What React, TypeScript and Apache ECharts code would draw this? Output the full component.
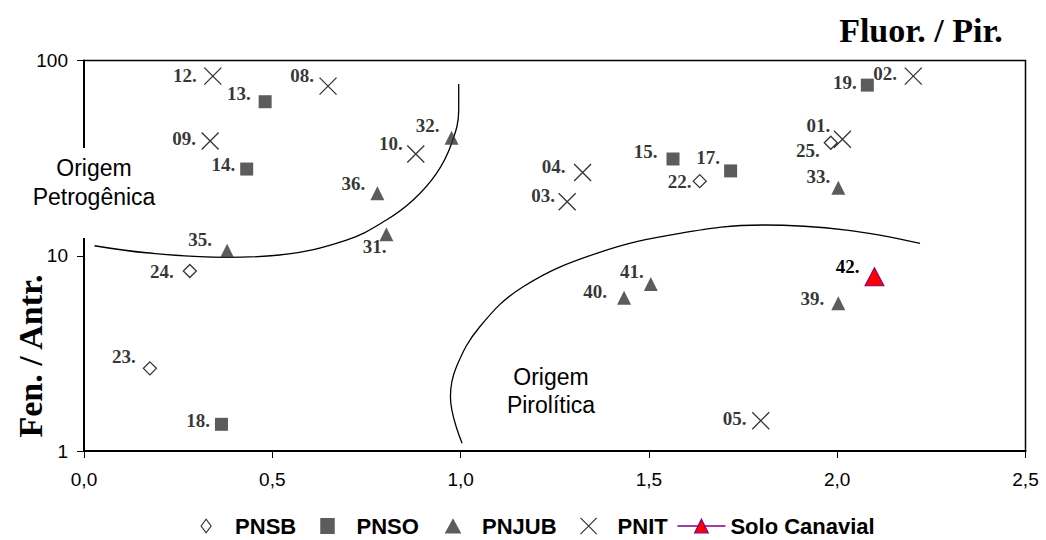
import React, { useEffect, useRef } from "react";
import * as echarts from "echarts";

// ---- data ----
const pnsbNames = ["22.", "23.", "24.", "25."];
const pnsbX = [1.635, 0.175, 0.281, 1.983];
const pnsbY = [24.1, 2.65, 8.35, 37.9];

const pnsoNames = ["13.", "14.", "15.", "17.", "18.", "19."];
const pnsoX = [0.481, 0.432, 1.564, 1.717, 0.365, 2.08];
const pnsoY = [61.5, 27.8, 31.3, 27.2, 1.37, 74.8];

const pnjubNames = ["31.", "32.", "33.", "35.", "36.", "39.", "40.", "41."];
const pnjubX = [0.803, 0.976, 2.003, 0.38, 0.779, 2.003, 1.434, 1.505];
const pnjubY = [12.9, 40.2, 22.3, 10.6, 20.9, 5.71, 6.1, 7.16];

const pnitNames = ["01.", "02.", "03.", "04.", "05.", "08.", "09.", "10.", "12."];
const pnitX = [2.014, 2.202, 1.283, 1.324, 1.797, 0.648, 0.335, 0.881, 0.342];
const pnitY = [39.5, 83.2, 18.9, 26.7, 1.43, 73.9, 38.7, 33.2, 83.2];

const soloNames = ["42."];
const soloX = [2.099];
const soloY = [7.81];

// boundary curves (data coordinates)
const petroCurveX = [0.028, 0.165, 0.378, 0.519, 0.697, 0.803, 0.874, 0.936, 0.976, 0.995, 0.995];
const petroCurveY = [11.25, 10.36, 9.82, 10.09, 12.03, 15.24, 19.28, 26.4, 37.6, 55.7, 75.7];
const pyroCurveX = [1.004, 0.973, 0.989, 1.051, 1.166, 1.361, 1.582, 1.803, 2.025, 2.22];
const pyroCurveY = [1.095, 1.897, 2.7, 4.33, 6.94, 10.29, 13.03, 14.37, 13.54, 11.57];

const xTicks = { min: 0, max: 2.5, interval: 0.5 };
const yTicks = { min: 1, max: 100 };

const legendNames = ["PNSB", "PNSO", "PNJUB", "PNIT", "Solo Canavial"];

// label placement: [distance, dy, dx]
const labelPlacement: Record<string, number[]> = {
  "12.": [7, -1], "13.": [8, -8], "08.": [5, -11], "09.": [5, -2], "14.": [5, -4.5],
  "10.": [4, -10], "32.": [5, -12.7], "36.": [5, -10], "31.": [0, 12.4, 7], "35.": [8, -11],
  "24.": [9, 0.7], "19.": [4, -2.5], "02.": [7, -3], "01.": [3, -14], "25.": [4, 7.3],
  "15.": [9, -7], "17.": [4, -13.5], "22.": [1, 0], "04.": [8, -6], "03.": [3, -6.7],
  "33.": [1, -11], "41.": [0, -12.3], "40.": [10, -6], "39.": [7, -5], "42.": [5, -10],
  "05.": [5, -2], "23.": [7, -11.6], "18.": [5, -4],
};

// legend layout (left edge of each legend item)
const legendLeft = [197, 319, 444.5, 579.5, 676.8];

function points(names: string[], xs: number[], ys: number[]) {
  return names.map((n, i) => {
    const p = labelPlacement[n] || [5, 0];
    return {
      name: n,
      value: [xs[i], ys[i]],
      label: { distance: p[0], offset: [p[2] || 0, p[1]] },
    };
  });
}

const serifLabel = {
  show: true,
  position: "left",
  formatter: (p: any) => p.name,
  fontFamily: "'Liberation Serif', 'Times New Roman', serif",
  fontWeight: "bold",
  fontSize: 19,
  color: "#000",
};

const X_PATH = "path://M0,0L10,10M10,0L0,10";
const LEG_ICONS: (string | undefined)[] = [
  "path://M0,0M17,17M3.5,8.5L8.5,1.7L13.5,8.5L8.5,15.3Z",
  "path://M0,0M17,17M1.25,0.5L15.75,0.5L15.75,16.5L1.25,16.5Z",
  "path://M0,0M17,17M0.2,16L8.5,0.7L16.8,16Z",
  "path://M0,0M17,17M0.4,0.4L16.6,16.6M16.6,0.4L0.4,16.6",
  undefined,
];

export default function App() {
  const ref = useRef<HTMLDivElement>(null);
  useEffect(() => {
    if (!ref.current) return;
    const chart = echarts.init(ref.current, null, { renderer: "svg" });
    const sans = "'Liberation Sans', Arial, sans-serif";
    const serif = "'Liberation Serif', 'Times New Roman', serif";
    const legends = legendNames.map((name, i) => ({
      left: legendLeft[i], top: 515, padding: 0,
      itemWidth: 48, itemHeight: 17,
      itemStyle: { borderWidth: 1.2 },
      lineStyle: { width: 1.3 },
      textStyle: { fontFamily: sans, fontWeight: "bold", fontSize: 22, color: "#000" },
      data: [LEG_ICONS[i] ? { name, icon: LEG_ICONS[i] } : { name }],
    }));
    chart.setOption({
      animation: false,
      backgroundColor: "#fff",
      grid: {
        left: 84, right: 20.5, top: 60.5, bottom: 89,
        show: true, borderColor: "#000", borderWidth: 1.5,
      },
      xAxis: {
        type: "value",
        min: xTicks.min, max: xTicks.max, interval: xTicks.interval,
        axisLine: { show: true, onZero: false, lineStyle: { color: "#000", width: 2 } },
        axisTick: { show: true, length: 7, lineStyle: { color: "#000", width: 1 } },
        splitLine: { show: false },
        axisLabel: {
          color: "#000", fontFamily: sans, fontSize: 19, margin: 19,
          formatter: (v: number) => v.toFixed(1).replace(".", ","),
        },
      },
      yAxis: {
        type: "log", logBase: 10, min: yTicks.min, max: yTicks.max,
        axisLine: { show: true, lineStyle: { color: "#000", width: 2 } },
        axisTick: { show: true, length: 7, lineStyle: { color: "#000", width: 1 } },
        minorTick: { show: false },
        splitLine: { show: false },
        axisLabel: { color: "#000", fontFamily: sans, fontSize: 19, margin: 16 },
      },
      legend: legends,
      graphic: [
        {
          type: "text", x: 94, y: 148, z: 100,
          style: {
            text: "Origem\nPetrogênica", fontFamily: sans, fontSize: 23, lineHeight: 29,
            fill: "#000", align: "center", verticalAlign: "top",
            backgroundColor: "#fff", padding: [5, 4, 27, 4],
          },
        },
        {
          type: "text", x: 551, y: 363, z: 100,
          style: {
            text: "Origem\nPirolítica", fontFamily: sans, fontSize: 23, lineHeight: 28,
            fill: "#000", align: "center", verticalAlign: "top",
          },
        },
        {
          type: "text", x: 921, y: 30, z: 100,
          style: {
            text: "Fluor. / Pir.", fontFamily: serif, fontWeight: "bold", fontSize: 34,
            fill: "#000", align: "center", verticalAlign: "middle",
          },
        },
        {
          type: "text", x: 30, y: 356, z: 100, rotation: Math.PI / 2,
          style: {
            text: "Fen. / Antr.", fontFamily: serif, fontWeight: "bold", fontSize: 34,
            fill: "#000", align: "center", verticalAlign: "middle",
          },
        },
      ],
      series: [
        {
          name: "curvaPetro", type: "line", smooth: 0.4, showSymbol: false, silent: true,
          data: petroCurveX.map((x, i) => [x, petroCurveY[i]]),
          lineStyle: { color: "#000", width: 1.3 }, z: 1,
        },
        {
          name: "curvaPiro", type: "line", smooth: 0.4, showSymbol: false, silent: true,
          data: pyroCurveX.map((x, i) => [x, pyroCurveY[i]]),
          lineStyle: { color: "#000", width: 1.3 }, z: 1,
        },
        {
          name: "PNSB", type: "scatter", symbol: "diamond", symbolSize: 13,
          itemStyle: { color: "#fff", borderColor: "#000", borderWidth: 1.3 },
          label: serifLabel, data: points(pnsbNames, pnsbX, pnsbY), z: 3,
        },
        {
          name: "PNSO", type: "scatter", symbol: "rect", symbolSize: 13,
          itemStyle: { color: "#333" },
          label: serifLabel, data: points(pnsoNames, pnsoX, pnsoY), z: 3,
        },
        {
          name: "PNJUB", type: "scatter", symbol: "triangle", symbolSize: 14,
          itemStyle: { color: "#333" },
          label: serifLabel, data: points(pnjubNames, pnjubX, pnjubY), z: 3,
        },
        {
          name: "PNIT", type: "scatter", symbol: X_PATH, symbolSize: 17,
          itemStyle: { color: "rgba(0,0,0,0)", borderColor: "#000", borderWidth: 1.3 },
          label: serifLabel, data: points(pnitNames, pnitX, pnitY), z: 3,
        },
        {
          name: "Solo Canavial", type: "line", symbol: "triangle", symbolSize: [19, 18],
          itemStyle: { color: "#ff0000", borderColor: "#800080", borderWidth: 1 },
          lineStyle: { color: "#800080", width: 1.3 },
          label: serifLabel, data: points(soloNames, soloX, soloY), z: 4,
        },
      ],
    });
    return () => chart.dispose();
  }, []);
  return (
    <div
      ref={ref}
      style={{ position: "absolute", left: 0, top: 0, width: 1046, height: 540 }}
    />
  );
}
